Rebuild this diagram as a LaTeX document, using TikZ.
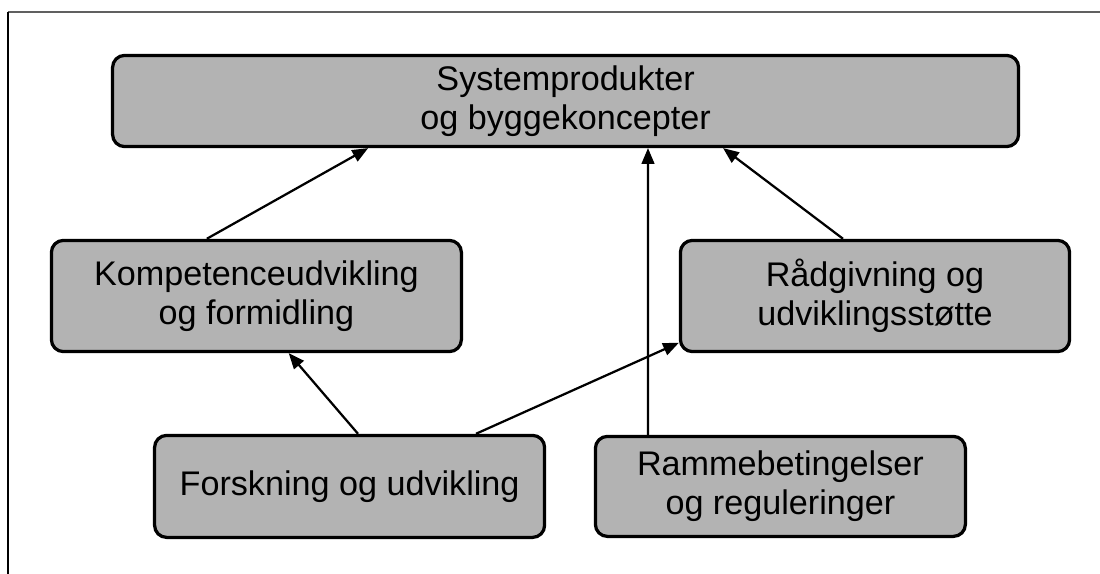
\documentclass[tikz,border=0pt]{standalone}
\usepackage{fontspec}
\setmainfont{Liberation Sans}
\usetikzlibrary{calc,positioning,arrows,shapes}
\definecolor{boxGray}{HTML}{B3B3B3}
\tikzstyle{roundBox} = [draw=black, line width=2.3pt, fill=boxGray, rounded corners=0.3cm, align=center, inner sep=0pt, font=\fontsize{24.3}{27.5}\selectfont]
\tikzstyle{flowArrow} = [line width=1.6pt, -triangle 45]

\begin{document}
\begin{tikzpicture}
  \useasboundingbox (0,0) rectangle (27.5,-14.35);
  \draw[gray!75!black, line width=1pt](0.2,-0.3)--(27.5,-0.3);
  \draw[black, line width=0.8pt](0.2,-0.3)--(0.2,-14.35);
  % boxes
  \node[roundBox, minimum width=22.65cm, minimum height=2.28cm] (system) at (14.14,-2.525) {Systemprodukter\\og byggekoncepter};
  \node[roundBox, minimum width=10.25cm, minimum height=2.78cm] (kompetence) at (6.41,-7.4) {Kompetenceudvikling\\og formidling};
  \node[roundBox, minimum width=9.73cm, minimum height=2.78cm] (raadgivning) at (21.875,-7.4) {Rådgivning og\\udviklingsstøtte};
  \node[roundBox, minimum width=9.75cm, minimum height=2.55cm] (forskning) at (8.74,-12.16) {Forskning og udvikling};
  \node[roundBox, minimum width=9.25cm, minimum height=2.5cm] (ramme) at (19.51,-12.16) {Rammebetingelser\\og reguleringer};
  % arrows
  \draw[flowArrow]([xshift=-1.24cm]kompetence.north)--([xshift=-4.94cm]system.south);
  \draw[flowArrow]([xshift=-0.8cm]raadgivning.north)--([xshift=3.94cm]system.south);
  \draw[flowArrow]([xshift=-3.31cm]ramme.north)--([xshift=2.06cm]system.south);
  \draw[flowArrow]([xshift=0.21cm]forskning.north)--([xshift=0.81cm]kompetence.south);
  \draw[flowArrow]([xshift=3.16cm]forskning.north)--([yshift=-1.17cm]raadgivning.west);
\end{tikzpicture}
\end{document}
